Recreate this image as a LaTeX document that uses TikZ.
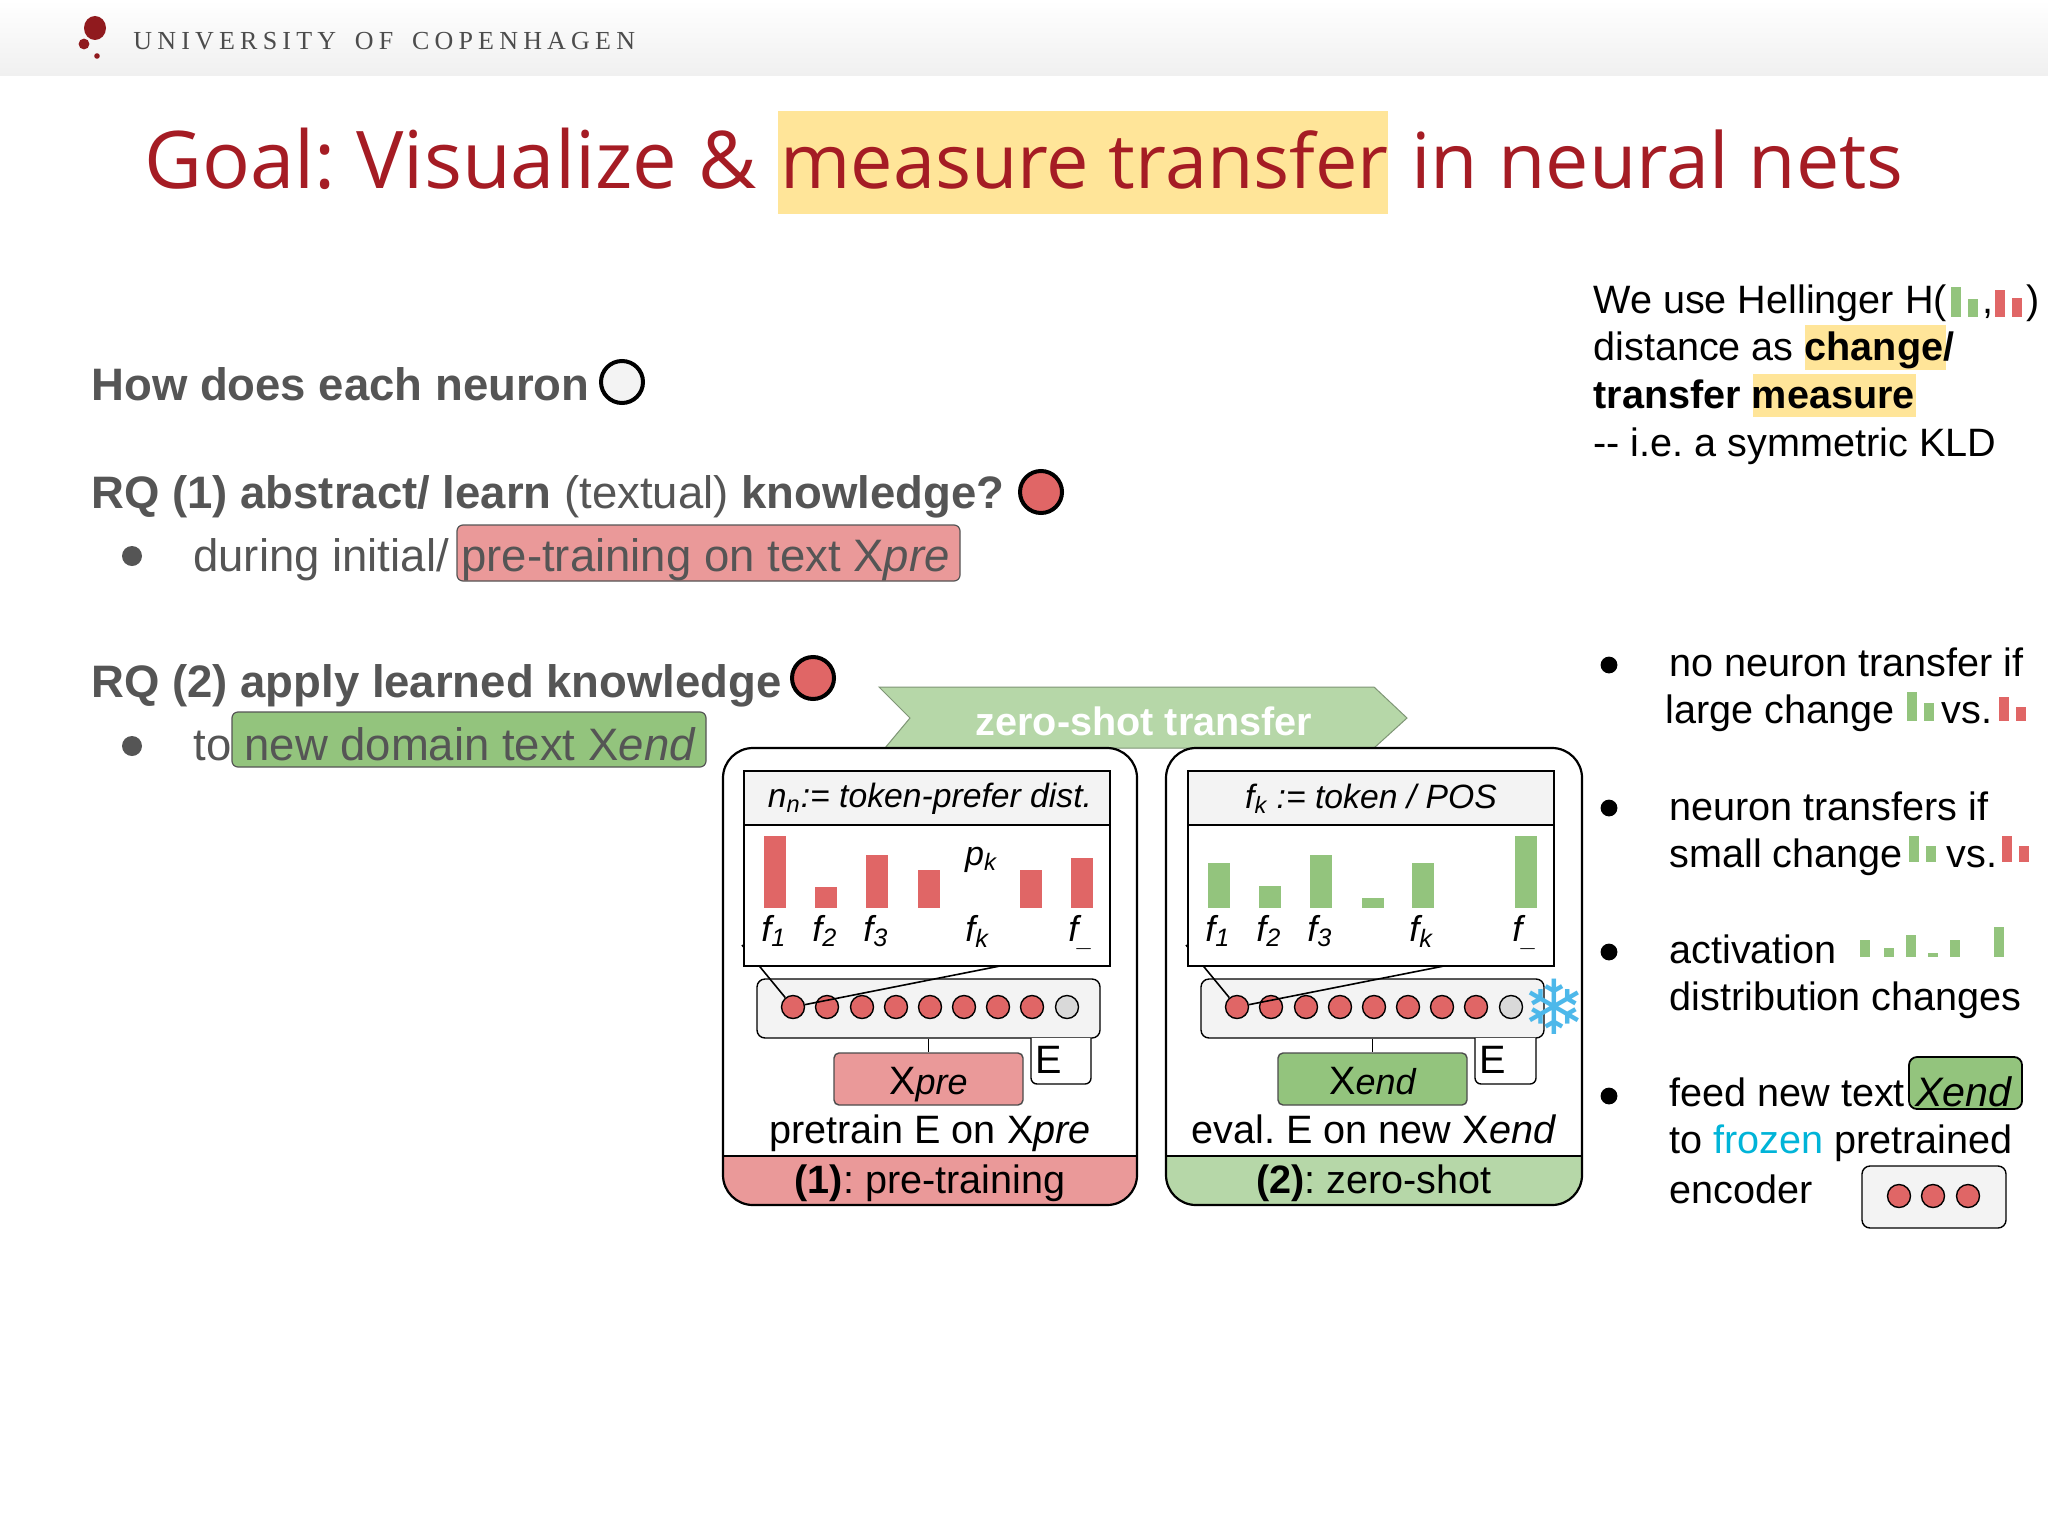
\documentclass[tikz,border=0pt]{standalone}
\usepackage{fontspec}
\setmainfont{Liberation Sans}
\newfontfamily\titlefont{Open Sans}
\newfontfamily\logofont[LetterSpace=20,WordSpace=1.6]{Liberation Serif}
\newfontfamily\flakefont{DejaVu Sans}
\usepackage{tikz}
\usetikzlibrary{positioning}

\definecolor{kured}{HTML}{A51C24}
\definecolor{kudot}{HTML}{901A1E}
\definecolor{bargrey}{HTML}{555555}
\definecolor{softred}{HTML}{E06666}
\definecolor{palered}{HTML}{EA9999}
\definecolor{softgreen}{HTML}{93C47D}
\definecolor{palegreen}{HTML}{B6D7A8}
\definecolor{softyellow}{HTML}{FFE599}
\definecolor{panelgrey}{HTML}{F3F3F3}
\definecolor{frozenblue}{HTML}{00B4D8}
\definecolor{flakeblue}{HTML}{4DB8EA}

\tikzset{
    base/.style={anchor=base west, inner sep=0pt},
    big/.style={base, font=\fontsize{22.75}{27}\selectfont, text=bargrey},
    body/.style={base, font=\fontsize{19.8}{24}\selectfont},
    mid/.style={anchor=center, inner sep=0pt, text height=14pt, text depth=4pt, font=\fontsize{19.8}{24}\selectfont},
    head/.style={anchor=center, inner sep=0pt, font=\fontsize{16.85}{19}\selectfont\itshape},
    small/.style={anchor=center, inner sep=0pt, font=\fontsize{17}{19}\selectfont\itshape},
    tag/.style={base, font=\fontsize{18}{20}\selectfont\itshape},
    neuron/.style={circle, draw=black, line width=0.7pt, fill=softred, minimum size=11.5pt, inner sep=0pt},
    bigdot/.style={circle, draw=black, line width=2pt, minimum size=21pt, inner sep=0pt},
    encbox/.style={draw=black, line width=0.7pt, fill=panelgrey, rounded corners=4pt, minimum width=171.5pt, minimum height=29.5pt, inner sep=0pt},
    xbox/.style={draw=black!70, line width=0.7pt, rounded corners=2.5pt, minimum width=94.5pt, minimum height=26pt, inner sep=0pt, text height=15pt, text depth=0pt, font=\fontsize{19.8}{24}\selectfont},
    hilite/.style={draw=bargrey, line width=0.6pt, rounded corners=3pt},
    panel/.style={draw=black, line width=1.1pt, rounded corners=15pt},
    inner/.style={draw=black, line width=0.9pt}
}
\newcommand{\subpre}{\fontsize{18}{20}\selectfont\itshape pre}
\newcommand{\subend}{\fontsize{18}{20}\selectfont\itshape end}

\begin{document}
\frenchspacing
\begin{tikzpicture}[x=0.5pt, y=-0.5pt]
                \useasboundingbox (0,0) rectangle (2048,1536);
                \fill[white] (0,0) rectangle (2048,1536);
                \shade[top color=white, bottom color=black!6] (0,0) rectangle (2048,76);

                \fill[kudot] (95,28) circle [x radius=5.5pt, y radius=6pt];
                \fill[kudot] (84,44) circle (2.7pt);
                \fill[kudot] (97,56) circle (1.4pt);
                \node[base, font=\logofont\fontsize{13}{15}\selectfont, text=black!70] (logotext) at (133,50) {UNIVERSITY OF COPENHAGEN};

                \fill[softyellow] (778,111) rectangle (1388,214);
                \node[base, font=\titlefont\fontsize{39.8}{46}\selectfont, text=kured] (titlea) at (144,188) {Goal: Visualize \&};
                \node[base, font=\titlefont\fontsize{37.8}{46}\selectfont, text=kured] (titleb) at (780,188) {measure transfer};
                \node[base, font=\titlefont\fontsize{38.6}{46}\selectfont, text=kured] (titlec) at (1411,188) {in neural nets};

                \node[big] (qneuron) at (91,400) {\textbf{How does each neuron}};
                \node[bigdot, fill=panelgrey] (dotneuron) at (622,382) {};

                \node[big] (rqone) at (91,508) {\textbf{RQ (1) abstract/ learn} (textual) \textbf{knowledge?}};
                \node[bigdot, fill=softred] (dotone) at (1041,492) {};
                \fill[bargrey] (132,556) circle (5pt);
                \node[big] (during) at (193,571) {during initial/};
                \filldraw[hilite, fill=palered] (457,525) rectangle (960,581);
                \node[big] (pretext) at (461,571) {pre-training on text X\textit{pre}};

                \node[big] (rqtwo) at (91,697) {\textbf{RQ (2) apply learned knowledge}};
                \node[bigdot, fill=softred] (dottwo) at (813,678) {};
                \fill[bargrey] (132,746) circle (5pt);
                \node[big] (to) at (193,760) {to};
                \filldraw[hilite, fill=softgreen] (232,712) rectangle (706,767);
                \node[big] (newtext) at (244,760) {new domain text X\textit{end}};

                \filldraw[fill=palegreen, draw=palegreen!70!black, line width=0.5pt] (879,687) -- (1374,687) -- (1407,718) -- (1374,748) -- (885,748) -- (910,718) -- cycle;
                \node[mid, text=white, font=\fontsize{19.8}{24}\selectfont\bfseries] (transfer) at (1144,725) {zero-shot transfer};

                \fill[white, rounded corners=15pt] (723,748) rectangle (1137,1205);
                \begin{scope}
                \clip[rounded corners=15pt] (723,748) rectangle (1137,1205);
                \fill[palered] (723,1156) rectangle (1137,1205);
                \end{scope}
                \draw[line width=1.1pt] (723,1156) -- (1137,1156);
                \draw[panel] (723,748) rectangle (1137,1205);

                \fill[white, rounded corners=15pt] (1166,748) rectangle (1582,1205);
                \begin{scope}
                \clip[rounded corners=15pt] (1166,748) rectangle (1582,1205);
                \fill[palegreen] (1166,1156) rectangle (1582,1205);
                \end{scope}
                \draw[line width=1.1pt] (1166,1156) -- (1582,1156);
                \draw[panel] (1166,748) rectangle (1582,1205);

                \node[encbox] (encpre) at (928.5,1008.5) {};
                \node[neuron] (npre1) at (793,1007) {};
                \node[neuron] (npre2) at (827,1007) {};
                \node[neuron] (npre3) at (862,1007) {};
                \node[neuron] (npre4) at (896,1007) {};
                \node[neuron] (npre5) at (930,1007) {};
                \node[neuron] (npre6) at (964,1007) {};
                \node[neuron] (npre7) at (998,1007) {};
                \node[neuron] (npre8) at (1032,1007) {};
                \node[neuron, fill=black!15] (npre9) at (1067,1007) {};
                \coordinate (cornerpre) at (742,945);
                \coordinate (toppre) at (1000,966);
                \draw[line width=0.8pt] (cornerpre) -- (npre1);
                \draw[line width=0.8pt] (toppre) -- (npre1);

                \node[encbox] (encend) at (1372.5,1008.5) {};
                \node[neuron] (nend1) at (1237,1007) {};
                \node[neuron] (nend2) at (1271,1007) {};
                \node[neuron] (nend3) at (1306,1007) {};
                \node[neuron] (nend4) at (1340,1007) {};
                \node[neuron] (nend5) at (1374,1007) {};
                \node[neuron] (nend6) at (1408,1007) {};
                \node[neuron] (nend7) at (1442,1007) {};
                \node[neuron] (nend8) at (1476,1007) {};
                \node[neuron, fill=black!15] (nend9) at (1511,1007) {};
                \coordinate (cornerend) at (1186,945);
                \coordinate (topend) at (1444,966);
                \draw[line width=0.8pt] (cornerend) -- (nend1);
                \draw[line width=0.8pt] (topend) -- (nend1);

                \filldraw[inner, fill=white] (744,771) rectangle (1110,966);
                \filldraw[inner, fill=panelgrey] (744,771) rectangle (1110,825);
                \filldraw[inner, fill=white] (1188,771) rectangle (1554,966);
                \filldraw[inner, fill=panelgrey] (1188,771) rectangle (1554,825);

                \node[head] (headpre) at (930,799) {n\textsubscript{n}:= token-prefer dist.};
                \node[head] (headend) at (1371,799) {f\textsubscript{k} := token / POS};

                \fill[softred] (764,836) rectangle (786,908);
                \fill[softred] (815,887) rectangle (837,908);
                \fill[softred] (866,855) rectangle (888,908);
                \fill[softred] (918,870) rectangle (940,908);
                \fill[softred] (1020,870) rectangle (1042,908);
                \fill[softred] (1071,858) rectangle (1093,908);
                \node[small] (pk) at (981,860) {p\textsubscript{k}};

                \node[tag] (fa) at (761,941) {f\textsubscript{1}};
                \node[tag] (fb) at (812,941) {f\textsubscript{2}};
                \node[tag] (fc) at (863,941) {f\textsubscript{3}};
                \node[tag] (fd) at (965,941) {f\textsubscript{k}};
                \node[tag] (fe) at (1068,941) {f\textsubscript{\_}};

                \fill[softgreen] (1208,863) rectangle (1230,908);
                \fill[softgreen] (1259,886) rectangle (1281,908);
                \fill[softgreen] (1310,855) rectangle (1332,908);
                \fill[softgreen] (1362,898) rectangle (1384,908);
                \fill[softgreen] (1412,863) rectangle (1434,908);
                \fill[softgreen] (1515,836) rectangle (1537,908);

                \node[tag] (ga) at (1205,941) {f\textsubscript{1}};
                \node[tag] (gb) at (1256,941) {f\textsubscript{2}};
                \node[tag] (gc) at (1307,941) {f\textsubscript{3}};
                \node[tag] (gd) at (1409,941) {f\textsubscript{k}};
                \node[tag] (ge) at (1512,941) {f\textsubscript{\_}};

                \filldraw[draw=black, line width=0.7pt, fill=white, rounded corners=3pt] (1031,1038) -- (1031,1084) -- (1091,1084) -- (1091,1038);
                \node[xbox, fill=palered] (xpre) at (928.5,1079) {X{\subpre}};
                \node[mid] (epre) at (1049,1063) {E};
                \draw[line width=0.7pt] (encpre) -- (xpre);

                \filldraw[draw=black, line width=0.7pt, fill=white, rounded corners=3pt] (1475,1038) -- (1475,1084) -- (1536,1084) -- (1536,1038);
                \node[xbox, fill=softgreen] (xend) at (1372.5,1079) {X{\subend}};
                \node[mid] (eend) at (1493,1063) {E};
                \draw[line width=0.7pt] (encend) -- (xend);

                \node[anchor=center, inner sep=0pt, text=flakeblue, font=\flakefont\fontsize{38}{38}\selectfont\bfseries] (flake) at (1554,1007) {❄};

                \node[mid] (trainpre) at (930,1133) {pretrain E on X\textit{pre}};
                \node[mid] (evalend) at (1374,1133) {eval. E on new X\textit{end}};
                \node[mid] (footpre) at (930,1183) {\textbf{(1)}: pre-training};
                \node[mid] (footend) at (1374,1183) {\textbf{(2)}: zero-shot};

                \fill[softyellow] (1805,325) rectangle (1946,370);
                \fill[softyellow] (1753,374) rectangle (1916,417);
                \node[body] (hella) at (1593,313) {We use Hellinger H(};
                \fill[softgreen] (1951,287) rectangle (1961,317);
                \fill[softgreen] (1968,299) rectangle (1978,317);
                \node[body] (comma) at (1982,313) {,};
                \fill[softred] (1995,290) rectangle (2005,317);
                \fill[softred] (2012,298) rectangle (2022,317);
                \node[body] (hellb) at (2026,313) {)};
                \node[body] (hellc) at (1593,360) {distance as \textbf{change/}};
                \node[body] (helld) at (1593,408) {\textbf{transfer measure}};
                \node[body] (helle) at (1593,456) {-{}- i.e. a symmetric KLD};

                \fill (1609,665) circle (4.2pt);
                \node[body] (noa) at (1669,676) {no neuron transfer if};
                \node[body] (nob) at (1665,723) {large change};
                \fill[softgreen] (1907,692) rectangle (1917,721);
                \fill[softgreen] (1924,703) rectangle (1934,721);
                \node[body] (novs) at (1941,723) {vs.};
                \fill[softred] (1999,697) rectangle (2009,721);
                \fill[softred] (2016,707) rectangle (2026,721);

                \fill (1609,808) circle (4.2pt);
                \node[body] (yesa) at (1669,820) {neuron transfers if};
                \node[body] (yesb) at (1669,867) {small change};
                \fill[softgreen] (1909,836) rectangle (1919,862);
                \fill[softgreen] (1926,846) rectangle (1936,862);
                \node[body] (yesvs) at (1946,867) {vs.};
                \fill[softred] (2002,836) rectangle (2012,862);
                \fill[softred] (2019,846) rectangle (2029,862);

                \fill (1609,952) circle (4.2pt);
                \node[body] (acta) at (1669,963) {activation};
                \fill[softgreen] (1860,940) rectangle (1870,957);
                \fill[softgreen] (1884,948) rectangle (1894,957);
                \fill[softgreen] (1906,935) rectangle (1916,957);
                \fill[softgreen] (1928,953) rectangle (1938,957);
                \fill[softgreen] (1950,940) rectangle (1960,957);
                \fill[softgreen] (1994,927) rectangle (2004,957);
                \node[body] (actb) at (1669,1010) {distribution changes};

                \fill (1609,1096) circle (4.2pt);
                \node[body] (feeda) at (1669,1106) {feed new text};
                \filldraw[draw=black, line width=0.9pt, fill=softgreen, rounded corners=4pt] (1909,1057) rectangle (2022,1109);
                \node[body, font=\fontsize{20.6}{24}\selectfont\itshape] (xendb) at (1915,1106) {Xend};
                \node[body] (feedb) at (1669,1153) {to \textcolor{frozenblue}{frozen} pretrained};
                \node[body] (feedc) at (1669,1203) {encoder};
                \filldraw[draw=black, line width=0.7pt, fill=panelgrey, rounded corners=4pt] (1862,1166) rectangle (2006,1228);
                \node[neuron] (na) at (1899,1196) {};
                \node[neuron] (nb) at (1933,1196) {};
                \node[neuron] (nc) at (1968,1196) {};
            \end{tikzpicture}
\end{document}
